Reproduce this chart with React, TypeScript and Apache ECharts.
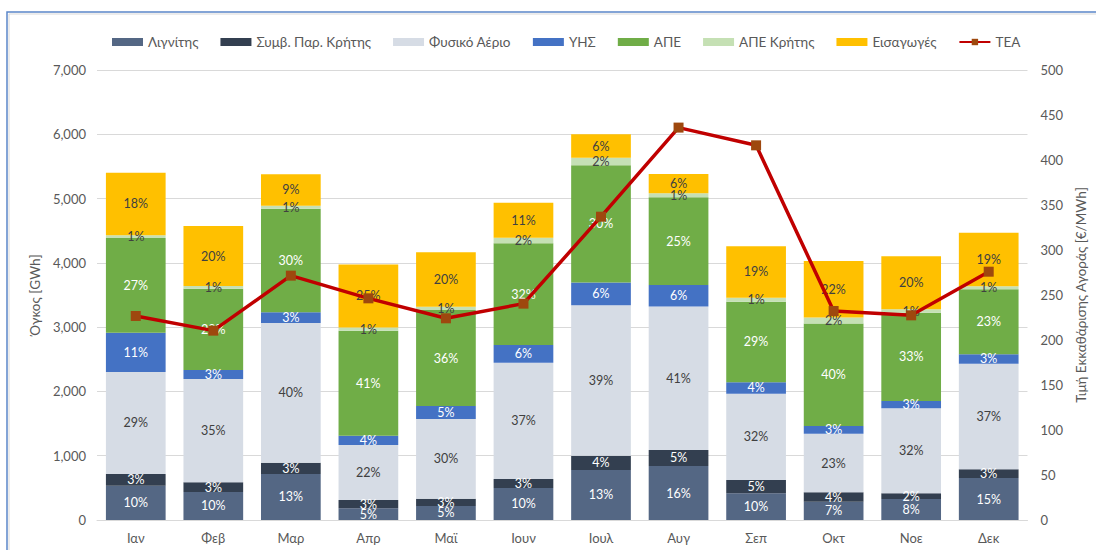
import React, { useEffect, useRef } from 'react';
import * as echarts from 'echarts';

const months = ['Ιαν', 'Φεβ', 'Μαρ', 'Απρ', 'Μαϊ', 'Ιουν', 'Ιουλ', 'Αυγ', 'Σεπ', 'Οκτ', 'Νοε', 'Δεκ'];
const lignite = [534, 436, 716, 182, 218, 498, 778, 840, 415, 282, 327, 652];
const creteConv = [182, 150, 175, 129, 113, 140, 220, 250, 207, 149, 88, 139];
const gas = [1586, 1607, 2174, 856, 1240, 1809, 2343, 2230, 1343, 911, 1323, 1640];
const hydro = [612, 140, 166, 145, 202, 275, 353, 337, 177, 121, 115, 147];
const res = [1473, 1265, 1612, 1633, 1494, 1582, 1825, 1364, 1254, 1595, 1369, 1010];
const resCrete = [42, 42, 46, 51, 51, 87, 115, 63, 62, 93, 58, 49];
const imports = [974, 933, 490, 980, 846, 545, 367, 300, 800, 878, 824, 832];
const dam = [226.7, 210.4, 271.5, 246.3, 224.1, 240.4, 337, 436, 416.3, 232.2, 227.4, 275.9];

const FONT = 'Lato, "Noto Sans", sans-serif';
const GREY = '#595959';

export default function App() {
  const ref = useRef<HTMLDivElement>(null);

  useEffect(() => {
    if (!ref.current) return;
    const chart = echarts.init(ref.current, undefined, { renderer: 'svg' });
    const stacks = [lignite, creteConv, gas, hydro, res, resCrete, imports];
    const totals = months.map((_, i) => stacks.reduce((s, arr) => s + arr[i], 0));

    const barSeries = (name: string, data: number[], color: string, labelColor: string) => ({
      name,
      type: 'bar',
      stack: 'vol',
      data,
      barCategoryGap: '23%',
      itemStyle: { color },
      label: {
        show: true,
        position: 'inside',
        color: labelColor,
        fontFamily: FONT,
        fontSize: 12.5,
        formatter: (p: any) => Math.round((p.value / totals[p.dataIndex]) * 100) + '%',
      },
      emphasis: { disabled: true },
    });

    chart.setOption({
      animation: false,
      textStyle: { fontFamily: FONT },
      graphic: [
        {
          type: 'rect',
          shape: { x: 7, y: 12, width: 1200, height: 600 },
          style: { fill: 'none', stroke: '#5B87C9', lineWidth: 1.5 },
          silent: true,
        },
        {
          type: 'rect',
          shape: { x: 9, y: 14, width: 1200, height: 600 },
          style: { fill: 'none', stroke: '#D9D9D9', lineWidth: 1 },
          silent: true,
        },
      ],
      legend: {
        top: 30,
        left: 107,
        itemWidth: 31,
        itemHeight: 8,
        itemGap: 22,
        textStyle: { color: GREY, fontSize: 13.5, fontFamily: FONT },
        data: [
          { name: 'Λιγνίτης', icon: 'rect' },
          { name: 'Συμβ. Παρ. Κρήτης', icon: 'rect' },
          { name: 'Φυσικό Αέριο', icon: 'rect' },
          { name: 'ΥΗΣ', icon: 'rect' },
          { name: 'ΑΠΕ', icon: 'rect' },
          { name: 'ΑΠΕ Κρήτης', icon: 'rect' },
          { name: 'Εισαγωγές', icon: 'rect' },
          { name: 'ΤΕΑ' },
        ],
      },
      grid: { left: 97, right: 64, top: 70, bottom: 30 },
      xAxis: {
        type: 'category',
        data: months,
        axisLine: { show: true, lineStyle: { color: '#D9D9D9' } },
        axisTick: { show: false },
        axisLabel: { color: GREY, fontSize: 13, margin: 11, fontFamily: FONT },
      },
      yAxis: [
        {
          type: 'value',
          min: 0,
          max: 7000,
          interval: 1000,
          name: 'Όγκος [GWh]',
          nameLocation: 'middle',
          nameGap: 52,
          nameTextStyle: { color: GREY, fontSize: 13.5, fontFamily: FONT },
          axisLabel: {
            color: GREY,
            fontSize: 13,
            margin: 11,
            fontFamily: FONT,
            formatter: (v: number) => v.toLocaleString('en-US'),
          },
          splitLine: { lineStyle: { color: '#D9D9D9', width: 1 } },
          axisLine: { show: false },
          axisTick: { show: false },
        },
        {
          type: 'value',
          min: 0,
          max: 500,
          interval: 50,
          name: 'Τιμή Εκκαθάρισης Αγοράς [€/MWh]',
          nameLocation: 'middle',
          nameGap: 42,
          nameTextStyle: { color: GREY, fontSize: 13.5, fontFamily: FONT },
          axisLabel: { color: GREY, fontSize: 13, margin: 13, fontFamily: FONT },
          splitLine: { show: false },
          axisLine: { show: false },
          axisTick: { show: false },
        },
      ],
      series: [
        barSeries('Λιγνίτης', lignite, '#546784', '#FFFFFF'),
        barSeries('Συμβ. Παρ. Κρήτης', creteConv, '#333F50', '#FFFFFF'),
        barSeries('Φυσικό Αέριο', gas, '#D6DCE5', '#404040'),
        barSeries('ΥΗΣ', hydro, '#4472C4', '#FFFFFF'),
        barSeries('ΑΠΕ', res, '#70AD47', '#FFFFFF'),
        barSeries('ΑΠΕ Κρήτης', resCrete, '#C5E0B4', '#404040'),
        barSeries('Εισαγωγές', imports, '#FFC000', '#404040'),
        {
          name: 'ΤΕΑ',
          type: 'line',
          yAxisIndex: 1,
          data: dam,
          symbol: 'rect',
          symbolSize: 10,
          lineStyle: { color: '#C00000', width: 3.5 },
          itemStyle: { color: '#9E480E' },
          z: 10,
          emphasis: { disabled: true },
        },
      ],
    });
    return () => chart.dispose();
  }, []);

  return (
    <div
      ref={ref}
      style={{ position: 'absolute', left: 0, top: 0, width: 1096, height: 550, background: '#FFFFFF' }}
    />
  );
}
